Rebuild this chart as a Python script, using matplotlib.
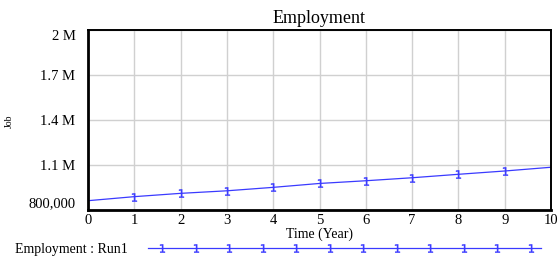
import matplotlib.pyplot as plt
from matplotlib.ticker import FixedLocator
from matplotlib.lines import Line2D

# data
years = [0, 1, 2, 3, 4, 5, 6, 7, 8, 9, 10]
employment = [862000, 889000, 911000, 928000, 951000, 977000, 995000,
              1015000, 1038000, 1060000, 1085000]
yticks = [800000, 1100000, 1400000, 1700000, 2000000]
ylabels = ["800,000", "1.1 M", "1.4 M", "1.7 M", "2 M"]
series_name = "Employment : Run1"

plt.rcParams['font.family'] = ['Liberation Serif', 'DejaVu Serif']
blue = "#3a3aff"

fig = plt.figure(figsize=(5.59, 2.62), dpi=100)
ax = fig.add_axes([88 / 559, 1 - 210 / 262, 463 / 559, 180 / 262])

ax.plot(years, employment, color=blue, lw=0.9)
ax.plot(years[1:-1], employment[1:-1], ls="none", marker="$1$",
        ms=6, color=blue, mew=0.3)

ax.set_xlim(0, 10)
ax.set_ylim(800000, 2000000)
ax.set_xticks(years)
ax.yaxis.set_major_locator(FixedLocator(yticks))
ax.set_yticklabels(ylabels)
ax.tick_params(length=0, labelsize=10.5)
ax.tick_params(axis="y", pad=9)
ax.tick_params(axis="x", pad=3)
# end labels kept inside the plot height, like the original
ylab = ax.get_yticklabels()
ylab[0].set_va("bottom")
ylab[-1].set_va("top")
ax.grid(color="#d0d0d0", lw=1)
ax.set_axisbelow(True)
for s in ["left", "bottom"]:
    ax.spines[s].set_linewidth(2)
for s in ["top", "right"]:
    ax.spines[s].set_linewidth(1.4)

ax.set_title("Employment", fontsize=13, pad=5)
ax.set_xlabel("Time (Year)", fontsize=10, labelpad=0)
fig.text(9 / 559, 1 - 121 / 262, "Job", rotation=90, fontsize=7,
         ha="center", va="center")

# legend row at the bottom
fig.text(15 / 559, 1 - 249 / 262, series_name, fontsize=10, va="center")
lx = [148 / 559, 541 / 559]
ly = 1 - 248 / 262
fig.add_artist(Line2D(lx, [ly, ly], color=blue, lw=0.9, transform=fig.transFigure))
mk_x = [(162 + 33.5 * i) / 559 for i in range(12)]
fig.add_artist(Line2D(mk_x, [ly] * 12, ls="none", marker="$1$", ms=6,
                      color=blue, mew=0.3, transform=fig.transFigure))

fig.savefig("out.png", dpi=100)
